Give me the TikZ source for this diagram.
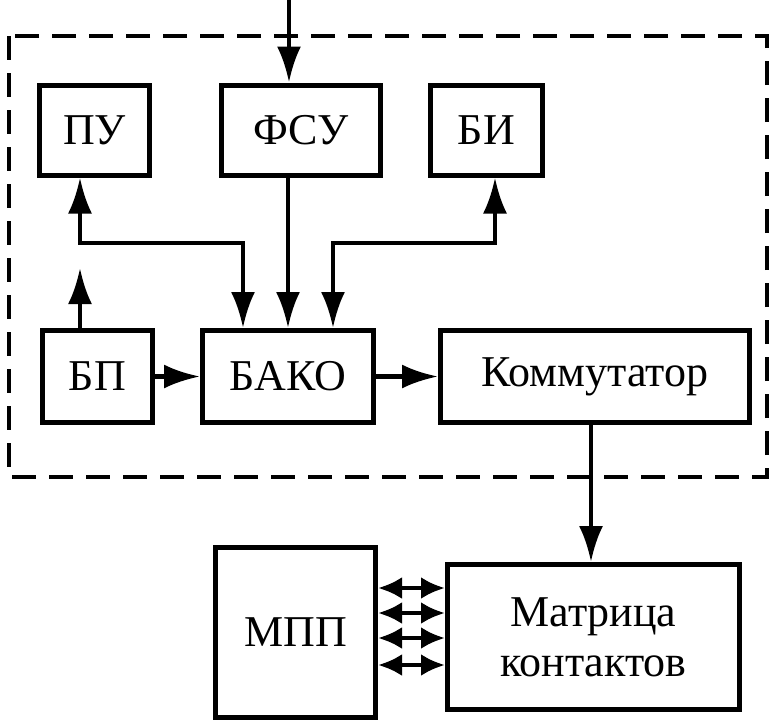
\documentclass[tikz,border=0pt]{standalone}
\usepackage{fontspec}
\setmainfont{Liberation Serif}
\usetikzlibrary{positioning,arrows.meta}

\begin{document}
\begin{tikzpicture}[x=0.5pt, y=-0.5pt, semithick,
        blok/.style = {draw, line width=2.5pt, inner sep=2pt, minimum height=45pt,
                       font=\fontsize{22}{25}\selectfont},
        strelka/.style = {-{Latex[length=18pt,width=12pt]}, line width=2.2pt},
        dvu/.style = {{Latex[length=18pt,width=12pt]}-{Latex[length=18pt,width=12pt]}, line width=2.2pt},
        para/.style = {{Latex[length=12pt,width=11pt]}-{Latex[length=12pt,width=11pt]}, line width=2.2pt}]
            \useasboundingbox (0,0) rectangle (776,725);
            % granica ustrojstva
            \draw[dash pattern=on 12pt off 6.5pt, line width=2.2pt] (9,36) rectangle (767,477);
            \node[blok, minimum width=55pt] (PU) at (94.5,130) {ПУ};
            \node[blok, minimum width=79.5pt] (FSU) at (301,130) {ФСУ};
            \node[blok, minimum width=56pt] (BI) at (486.5,130) {БИ};
            \node[blok, minimum width=85.5pt, minimum height=46pt] (BAKO) at (288,376.5) {БАКО};
            \node[blok, minimum width=55pt, minimum height=46pt] (BP) [left of=BAKO, node distance=95.25pt] {БП};
            \node[blok, minimum width=154.5pt, minimum height=46pt] (KOM) [right of=BAKO, node distance=153.5pt] {Коммутатор};
            \node[blok, minimum width=80pt, minimum height=85pt] (MPP) at (295.5,632.5) {МПП};
            \node[blok, minimum width=146pt, minimum height=72.5pt, align=center] (MAT) at (593.5,637) {Матрица\\контактов};
            \coordinate (vhod) at (289,0);
            \coordinate (pitanie) at (80,268);
            \coordinate (shina) at (0,243);
            \coordinate (bi) at (495,0);
            \draw[strelka] (vhod) -- (vhod |- FSU.north);
            \draw[strelka] (FSU.south -| BAKO.north) -- (BAKO.north);
            \draw[dvu] (PU.south -| pitanie) -- (pitanie |- shina) -| ([xshift=-22.5pt]BAKO.north);
            \draw[dvu] (BI.south -| bi) -- (bi |- shina) -| ([xshift=22.5pt]BAKO.north);
            \draw[strelka] (BP.north -| pitanie) -- (pitanie);
            \draw[strelka] (BP) -- (BAKO);
            \draw[strelka] (BAKO) -- (KOM);
            \draw[strelka] (KOM.south -| 591,0) -- (MAT.north -| 591,0);
            \foreach \y in {588,613,638,665}
                \draw[para] (MPP.east |- 0,\y) -- (MAT.west |- 0,\y);
        \end{tikzpicture}
\end{document}
